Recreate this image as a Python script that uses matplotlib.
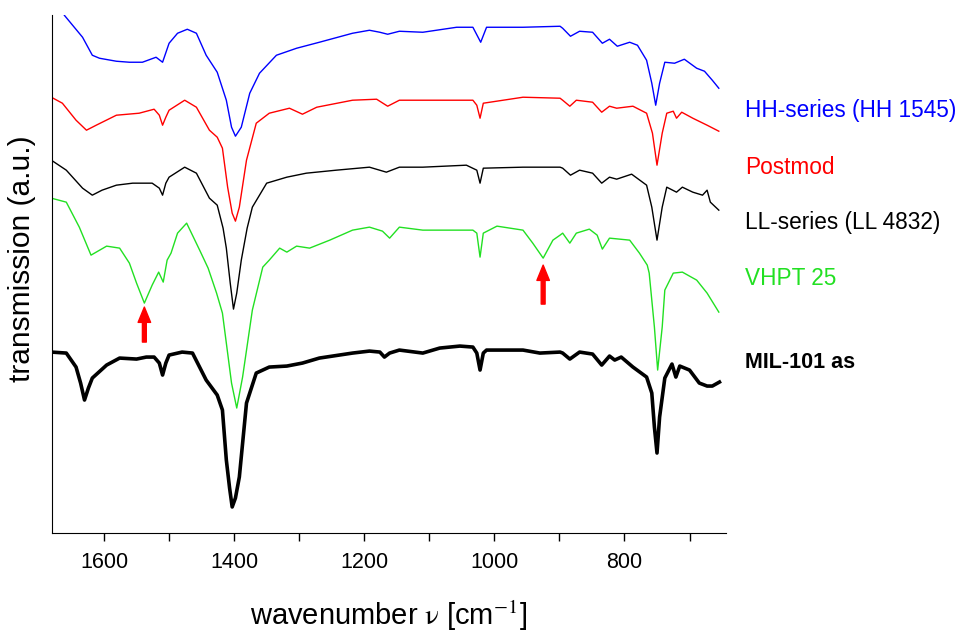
import matplotlib
matplotlib.use("Agg")
import matplotlib.pyplot as plt

plt.rcParams['font.family'] = ['Liberation Sans', 'DejaVu Sans']
plt.rcParams['mathtext.fontset'] = 'stix'

# IR spectra, transmission in arbitrary units (already stacked with offsets)
hh_wn = [1681, 1661, 1633, 1618, 1607, 1581, 1561, 1541, 1520, 1510, 1500, 1487, 1472, 1458, 1443,
         1433, 1426, 1412, 1404, 1398, 1389, 1376, 1361, 1335, 1304, 1269, 1218, 1192, 1176, 1164,
         1146, 1110, 1058, 1033, 1021, 1012, 956, 899, 895, 883, 869, 849, 834, 823, 811,
         792, 780, 766, 758, 752, 746, 738, 723, 708, 689, 677, 665, 655]
hh_val = [545, 518, 496, 478, 475, 472, 471, 471, 476, 471, 490, 500, 504, 500, 478,
          468, 461, 433, 406, 397, 406, 440, 460, 478, 485, 491, 500, 503, 501, 499,
          502, 501, 506, 506, 491, 506, 506, 507, 505, 497, 502, 501, 490, 494, 487,
          491, 488, 473, 450, 428, 450, 471, 470, 474, 465, 462, 453, 445]

pm_wn = [1681, 1664, 1643, 1627, 1612, 1581, 1546, 1523, 1515, 1510, 1505, 1500, 1476, 1458, 1438,
         1426, 1418, 1410, 1403, 1398, 1392, 1381, 1366, 1346, 1315, 1295, 1273, 1218, 1181, 1164,
         1146, 1110, 1033, 1027, 1022, 1017, 956, 899, 895, 884, 874, 849, 835, 823, 812,
         787, 766, 757, 750, 742, 735, 725, 720, 712, 695, 673, 655]
pm_val = [436, 430, 413, 403, 408, 418, 420, 424, 418, 408, 416, 423, 433, 426, 403,
          396, 385, 346, 320, 312, 326, 373, 410, 420, 425, 419, 426, 433, 434, 427,
          433, 433, 433, 428, 415, 430, 436, 435, 433, 427, 433, 431, 421, 427, 425,
          427, 420, 400, 368, 400, 420, 422, 415, 421, 415, 408, 402]

ll_wn = [1681, 1658, 1633, 1618, 1603, 1581, 1556, 1526, 1515, 1510, 1505, 1500, 1476, 1458, 1438,
         1426, 1417, 1412, 1406, 1401, 1396, 1389, 1380, 1372, 1350, 1319, 1289, 1243, 1192, 1166,
         1146, 1110, 1043, 1027, 1022, 1017, 956, 899, 895, 883, 869, 849, 835, 823, 812,
         789, 766, 758, 750, 742, 735, 720, 711, 695, 680, 673, 668, 655]
ll_val = [373, 363, 345, 338, 343, 348, 350, 350, 345, 338, 350, 356, 366, 360, 335,
          328, 305, 285, 250, 224, 240, 273, 305, 326, 350, 356, 360, 363, 366, 361,
          366, 366, 368, 363, 350, 365, 366, 366, 365, 358, 363, 360, 350, 356, 354,
          359, 348, 326, 293, 326, 346, 341, 346, 341, 338, 343, 331, 323]

vh_wn = [1681, 1658, 1638, 1620, 1596, 1576, 1561, 1550, 1538, 1526, 1516, 1509, 1503, 1497, 1487,
         1473, 1453, 1440, 1427, 1418, 1412, 1404, 1396, 1387, 1372, 1356, 1346, 1330, 1319, 1304,
         1284, 1253, 1218, 1192, 1172, 1161, 1146, 1110, 1033, 1027, 1022, 1017, 996, 956, 941,
         925, 910, 899, 895, 884, 874, 854, 842, 834, 823, 792, 777, 765, 762, 754,
         749, 742, 738, 725, 711, 689, 673, 655]
vh_val = [335, 331, 306, 278, 287, 285, 270, 250, 230, 248, 261, 251, 273, 280, 300,
          310, 283, 265, 240, 220, 190, 150, 125, 156, 223, 266, 273, 285, 281, 287,
          285, 293, 303, 306, 302, 295, 306, 303, 303, 300, 276, 300, 307, 303, 290,
          275, 293, 298, 300, 290, 300, 304, 298, 284, 295, 293, 280, 268, 260, 206,
          163, 206, 243, 260, 261, 253, 240, 221]

mil_wn = [1681, 1658, 1643, 1636, 1630, 1624, 1618, 1596, 1576, 1550, 1535, 1523, 1515, 1510, 1505,
          1500, 1480, 1464, 1443, 1426, 1418, 1412, 1407, 1403, 1398, 1392, 1381, 1366, 1346, 1319,
          1295, 1269, 1218, 1192, 1176, 1169, 1161, 1146, 1110, 1084, 1053, 1033, 1027, 1022, 1017,
          1012, 956, 930, 899, 895, 884, 869, 849, 835, 823, 815, 805, 787, 766, 758,
          754, 750, 746, 738, 727, 721, 715, 700, 685, 673, 665, 654]
mil_val = [181, 180, 166, 150, 133, 145, 155, 168, 175, 174, 176, 176, 170, 158, 170,
           178, 181, 180, 153, 138, 123, 73, 45, 26, 35, 56, 130, 160, 166, 167,
           170, 175, 180, 182, 181, 176, 180, 183, 180, 185, 187, 186, 180, 163, 180,
           183, 183, 180, 181, 180, 174, 181, 179, 168, 177, 173, 176, 166, 156, 140,
           106, 80, 116, 155, 169, 156, 167, 163, 150, 147, 147, 151]

labels = ['HH-series (HH 1545)', 'Postmod', 'LL-series (LL 4832)', 'VHPT 25', 'MIL-101 as']
label_y = [423, 366, 311, 255, 171]
colors = ['#0000ff', '#ff0000', '#000000', '#22e022', '#000000']

# marked bands (position, arrow tail, arrow tip)
arrow_wn = [1538, 925]
arrow_tail = [191, 229]
arrow_tip = [226, 268]

fig = plt.figure(figsize=(9.59, 6.36), dpi=100)
ax = fig.add_axes([0.0542, 0.162, 0.7028, 0.814])

ax.plot(hh_wn, hh_val, color=colors[0], lw=1.0)
ax.plot(pm_wn, pm_val, color=colors[1], lw=1.0)
ax.plot(ll_wn, ll_val, color=colors[2], lw=1.0)
ax.plot(vh_wn, vh_val, color=colors[3], lw=1.0)
ax.plot(mil_wn, mil_val, color=colors[4], lw=2.6, solid_joinstyle='round')

for x, t0, t1 in zip(arrow_wn, arrow_tail, arrow_tip):
    ax.annotate('', xy=(x, t1), xytext=(x, t0),
                arrowprops=dict(facecolor='red', edgecolor='red', width=2.8,
                                headwidth=9, headlength=11, shrink=0))

for i, lab in enumerate(labels):
    bold = lab == 'MIL-101 as'
    ax.text(1.028, label_y[i], lab, transform=ax.get_yaxis_transform(),
            color=colors[i], fontsize=15.5 if bold else 16.3, va='center', ha='left',
            fontweight='bold' if bold else 'normal')

ax.set_xlim(1680, 644)
ax.set_ylim(0, 518)
ax.set_xticks([1600, 1400, 1200, 1000, 800])
ax.set_xticks([1500, 1300, 1100, 900, 700], minor=True)
ax.set_yticks([])
ax.tick_params(axis='x', which='both', direction='out', length=6, width=1, labelsize=15.5, pad=8)
ax.spines['top'].set_visible(False)
ax.spines['right'].set_visible(False)

ax.set_xlabel(r'wavenumber $\mathrm{\nu}$ [cm$^{-1}$]', fontsize=21, labelpad=18)
ax.set_ylabel('transmission (a.u.)', fontsize=21.5)
ax.yaxis.set_label_coords(-0.024, 0.53)

fig.savefig('out.png', dpi=100)
